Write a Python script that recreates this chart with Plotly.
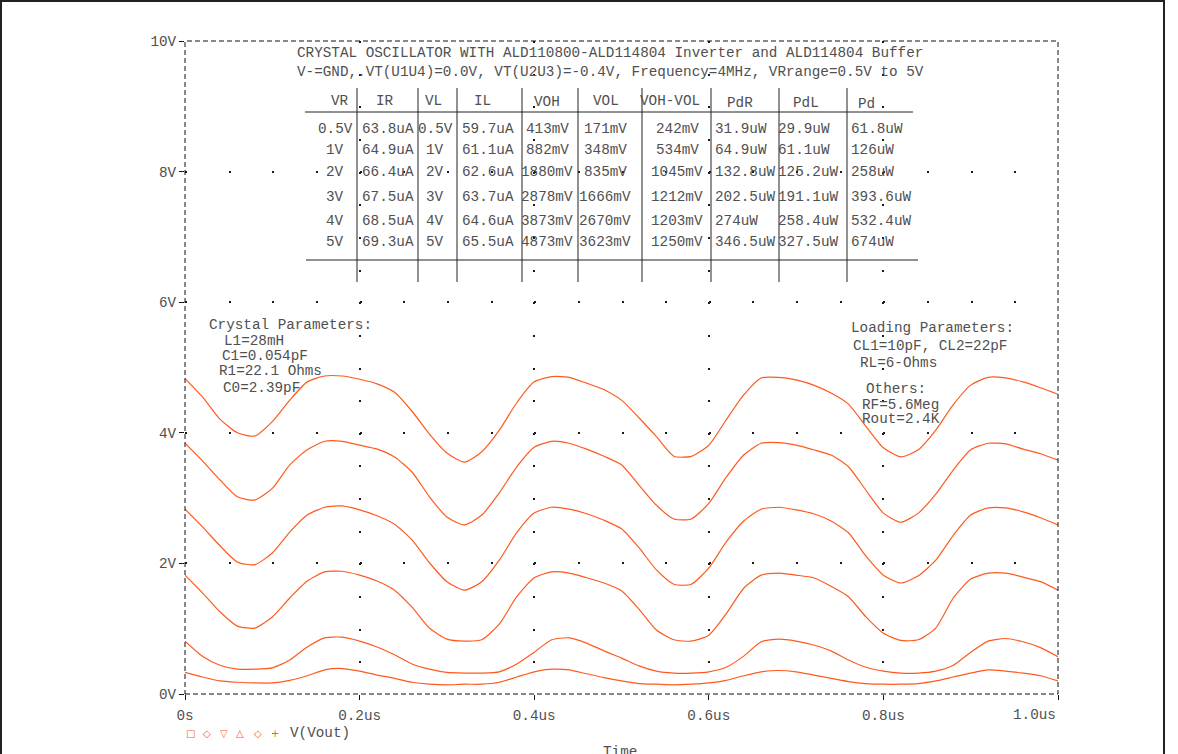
import plotly.graph_objects as go

# ---------------- data ----------------
time_us = [0.00, 0.02, 0.04, 0.06, 0.08, 0.10, 0.12, 0.14, 0.16, 0.18,
           0.20, 0.22, 0.24, 0.26, 0.28, 0.30, 0.32, 0.34, 0.36, 0.38,
           0.40, 0.42, 0.44, 0.46, 0.48, 0.50, 0.52, 0.54, 0.56, 0.58,
           0.60, 0.62, 0.64, 0.66, 0.68, 0.70, 0.72, 0.74, 0.76, 0.78,
           0.80, 0.82, 0.84, 0.86, 0.88, 0.90, 0.92, 0.94, 0.96, 0.98, 1.00]

vout_5v = [4.83, 4.55, 4.21, 4.00, 3.95, 4.17, 4.50, 4.78, 4.87, 4.87,
           4.82, 4.75, 4.62, 4.33, 3.98, 3.69, 3.55, 3.71, 4.04, 4.46,
           4.78, 4.86, 4.85, 4.76, 4.66, 4.50, 4.23, 3.94, 3.64, 3.64,
           3.81, 4.20, 4.58, 4.84, 4.85, 4.81, 4.73, 4.61, 4.44, 4.10,
           3.77, 3.63, 3.74, 4.04, 4.43, 4.73, 4.85, 4.84, 4.78, 4.69, 4.59]

vout_4v = [3.84, 3.57, 3.28, 3.02, 2.97, 3.15, 3.51, 3.74, 3.87, 3.87,
           3.81, 3.75, 3.63, 3.40, 3.02, 2.71, 2.59, 2.74, 3.08, 3.48,
           3.78, 3.87, 3.84, 3.75, 3.64, 3.51, 3.20, 2.89, 2.68, 2.68,
           2.92, 3.32, 3.66, 3.84, 3.85, 3.81, 3.74, 3.66, 3.48, 3.12,
           2.77, 2.63, 2.77, 3.06, 3.43, 3.74, 3.84, 3.83, 3.75, 3.68, 3.58]

vout_3v = [2.83, 2.56, 2.27, 2.02, 1.98, 2.16, 2.48, 2.74, 2.86, 2.88,
           2.82, 2.73, 2.60, 2.36, 2.01, 1.72, 1.59, 1.72, 2.05, 2.47,
           2.77, 2.86, 2.83, 2.76, 2.66, 2.53, 2.24, 1.90, 1.68, 1.68,
           1.93, 2.33, 2.65, 2.83, 2.86, 2.82, 2.76, 2.65, 2.47, 2.11,
           1.82, 1.70, 1.81, 2.05, 2.43, 2.74, 2.85, 2.85, 2.79, 2.70, 2.59]

vout_2v = [1.82, 1.55, 1.26, 1.04, 1.01, 1.18, 1.47, 1.73, 1.87, 1.88,
           1.82, 1.73, 1.59, 1.33, 1.01, 0.84, 0.81, 0.83, 1.07, 1.49,
           1.78, 1.87, 1.85, 1.78, 1.70, 1.58, 1.30, 0.98, 0.83, 0.81,
           0.90, 1.23, 1.62, 1.82, 1.85, 1.82, 1.78, 1.65, 1.49, 1.18,
           0.93, 0.82, 0.83, 1.01, 1.47, 1.76, 1.85, 1.85, 1.79, 1.72, 1.59]

vout_1v = [0.81, 0.58, 0.44, 0.38, 0.38, 0.40, 0.52, 0.72, 0.86, 0.87,
           0.81, 0.72, 0.60, 0.46, 0.38, 0.33, 0.32, 0.32, 0.34, 0.46,
           0.64, 0.83, 0.86, 0.78, 0.66, 0.55, 0.43, 0.35, 0.32, 0.32,
           0.34, 0.41, 0.58, 0.80, 0.84, 0.81, 0.75, 0.66, 0.52, 0.41,
           0.35, 0.32, 0.32, 0.35, 0.44, 0.64, 0.81, 0.85, 0.80, 0.71, 0.57]

vout_05v = [0.33, 0.26, 0.20, 0.18, 0.17, 0.17, 0.21, 0.28, 0.37, 0.39,
            0.35, 0.29, 0.24, 0.18, 0.15, 0.14, 0.15, 0.15, 0.18, 0.26,
            0.34, 0.38, 0.37, 0.31, 0.25, 0.20, 0.16, 0.15, 0.14, 0.15,
            0.17, 0.21, 0.28, 0.34, 0.36, 0.34, 0.29, 0.24, 0.19, 0.16,
            0.15, 0.15, 0.16, 0.20, 0.26, 0.32, 0.37, 0.35, 0.32, 0.28, 0.20]

series = [vout_5v, vout_4v, vout_3v, vout_2v, vout_1v, vout_05v]
series_names = ["VR=5V", "VR=4V", "VR=3V", "VR=2V", "VR=1V", "VR=0.5V"]

y_tick_vals = [0, 2, 4, 6, 8, 10]
y_tick_text = ["0V", "2V", "4V", "6V", "8V", "10V"]
x_tick_vals = [0, 0.2, 0.4, 0.6, 0.8, 1.0]
x_tick_text = ["0s", "0.2us", "0.4us", "0.6us", "0.8us", ""]
x_last_label = "1.0us"

title_lines = [
    "CRYSTAL OSCILLATOR WITH ALD110800-ALD114804 Inverter and ALD114804 Buffer",
    "V-=GND,.VT(U1U4)=0.0V, VT(U2U3)=-0.4V, Frequency=4MHz, VRrange=0.5V to 5V",
]

tbl_headers = ["VR", "IR", "VL", "IL", "VOH", "VOL", "VOH-VOL", "PdR", "PdL", "Pd"]
col_VR = ["0.5V", "1V", "2V", "3V", "4V", "5V"]
col_IR = ["63.8uA", "64.9uA", "66.4uA", "67.5uA", "68.5uA", "69.3uA"]
col_VL = ["0.5V", "1V", "2V", "3V", "4V", "5V"]
col_IL = ["59.7uA", "61.1uA", "62.6uA", "63.7uA", "64.6uA", "65.5uA"]
col_VOH = ["413mV", "882mV", "1880mV", "2878mV", "3873mV", "4873mV"]
col_VOL = ["171mV", "348mV", "835mV", "1666mV", "2670mV", "3623mV"]
col_VOHVOL = ["242mV", "534mV", "1045mV", "1212mV", "1203mV", "1250mV"]
col_PdR = ["31.9uW", "64.9uW", "132.8uW", "202.5uW", "274uW", "346.5uW"]
col_PdL = ["29.9uW", "61.1uW", "125.2uW", "191.1uW", "258.4uW", "327.5uW"]
col_Pd = ["61.8uW", "126uW", "258uW", "393.6uW", "532.4uW", "674uW"]
tbl_columns = [col_VR, col_IR, col_VL, col_IL, col_VOH, col_VOL,
               col_VOHVOL, col_PdR, col_PdL, col_Pd]

crystal_lines = ["Crystal Parameters:", "L1=28mH", "C1=0.054pF",
                 "R1=22.1 Ohms", "C0=2.39pF"]
loading_lines = ["Loading Parameters:", "CL1=10pF, CL2=22pF", "RL=6-Ohms",
                 "Others:", "RF=5.6Meg", "Rout=2.4K"]
legend_symbols = ["\u25a1", "\u25c7", "\u25bd", "\u25b3", "\u25c7", "+"]
legend_label = "V(Vout)"
x_axis_title = "Time"

# ---------------- layout geometry / style ----------------
W, H = 1178, 754
ML, MR, MT, MB = 185, 120, 41, 60
PW, PH = W - ML - MR, H - MT - MB


def px(x):
    return (x - ML) / PW


def py(y):
    return (H - MB - y) / PH


FONT = "Courier New, Liberation Mono, monospace"
FS = 14.3
TXT = "#505050"
CURVE = "#ff5a1e"

fig = go.Figure()
for vals, name in zip(series, series_names):
    fig.add_trace(go.Scatter(x=time_us, y=vals, mode="lines", name=name,
                             line=dict(color=CURVE, width=1.2, shape="spline",
                                       smoothing=0.6),
                             showlegend=False))

annotations = []


def text(s, x, y, anchor="center", color=TXT, size=FS, family=FONT):
    annotations.append(dict(text=s, x=px(x), y=py(y), xref="paper", yref="paper",
                            xanchor=anchor, yanchor="middle", showarrow=False,
                            font=dict(family=family, size=size, color=color)))


# title lines
text(title_lines[0], 610, 53)
text(title_lines[1], 610, 72)

# table
hdr_x = [340, 385, 433, 482, 547, 606, 670, 740, 806, 866]
hdr_y = [101, 101, 101, 101, 102, 101, 101, 103, 103, 104]
for h, x, y in zip(tbl_headers, hdr_x, hdr_y):
    text(h, x, y)
row_y = [129, 150, 172, 197, 221, 242]
col_pos = [(335, "center"), (360, "left"), (435, "center"), (460, "left"),
           (547, "center"), (605, "center"), (677, "center"), (713, "left"),
           (776, "left"), (849, "left")]
for col, (cx, anc) in zip(tbl_columns, col_pos):
    for v, ry in zip(col, row_y):
        text(v, cx, ry, anchor=anc)

# parameter notes
cry_pos = [(207, 325), (222, 341), (220, 356), (217, 371), (221, 388)]
for s, (x, y) in zip(crystal_lines, cry_pos):
    text(s, x, y, anchor="left")
load_pos = [(849, 328), (851, 346), (858, 363), (864, 389), (860, 405), (860, 419)]
for s, (x, y) in zip(loading_lines, load_pos):
    text(s, x, y, anchor="left")

# last x tick label (right aligned at axis end) and axis title
text(x_last_label, 1058, 715, anchor="right")
text(x_axis_title, 620, 752)

# legend row
sym_x = [190, 207, 224, 240, 258, 275]
for s, x in zip(legend_symbols, sym_x):
    text(s, x, 733, color=CURVE, size=10, family="DejaVu Sans")
text(legend_label, 288, 733, anchor="left")

shapes = []
# dashed plot frame
shapes.append(dict(type="rect", xref="paper", yref="paper", x0=0, y0=0, x1=1, y1=1,
                   line=dict(color="#111111", width=1, dash="5px,3px")))
# table rules
for (x0, x1, y) in [(305, 913, 112), (306, 918, 260)]:
    shapes.append(dict(type="line", xref="paper", yref="paper", x0=px(x0), x1=px(x1),
                       y0=py(y), y1=py(y), line=dict(color="#222222", width=1)))
for x in [357, 418, 457, 522, 578, 642, 711, 779, 847]:
    shapes.append(dict(type="line", xref="paper", yref="paper", x0=px(x), x1=px(x),
                       y0=py(88), y1=py(282), line=dict(color="#222222", width=1)))
# outer page border (left, top, right)
for (x0, y0, x1, y1) in [(1, 0, 1, 754), (0, 1, 1164, 1), (1164, 0, 1164, 754)]:
    shapes.append(dict(type="line", xref="paper", yref="paper", x0=px(x0), x1=px(x1),
                       y0=py(y0), y1=py(y1), line=dict(color="#222222", width=2)))

axis_font = dict(family=FONT, size=FS, color=TXT)
fig.update_layout(
    width=W, height=H,
    margin=dict(l=ML, r=MR, t=MT, b=MB, pad=0),
    paper_bgcolor="white", plot_bgcolor="white",
    showlegend=False,
    annotations=annotations,
    shapes=shapes,
    xaxis=dict(range=[0, 1], tickvals=x_tick_vals, ticktext=x_tick_text,
               ticks="outside", ticklen=5, tickcolor="#111111", tickwidth=1,
               tickfont=axis_font, ticklabelstandoff=3,
               showline=False, zeroline=False,
               showgrid=True, gridcolor="#1a1a1a", gridwidth=2,
               griddash="2px,30.65px", fixedrange=True),
    yaxis=dict(range=[0, 10], tickvals=y_tick_vals, ticktext=y_tick_text,
               ticks="outside", ticklen=5, tickcolor="#111111", tickwidth=1,
               tickfont=axis_font,
               showline=False, zeroline=False,
               showgrid=True, gridcolor="#1a1a1a", gridwidth=2,
               griddash="2px,41.65px", fixedrange=True),
)

fig.write_html("out.html",
               config={"displayModeBar": False, "staticPlot": True},
               post_script="document.body.style.margin='0';"
                           "document.body.style.overflow='hidden';")
